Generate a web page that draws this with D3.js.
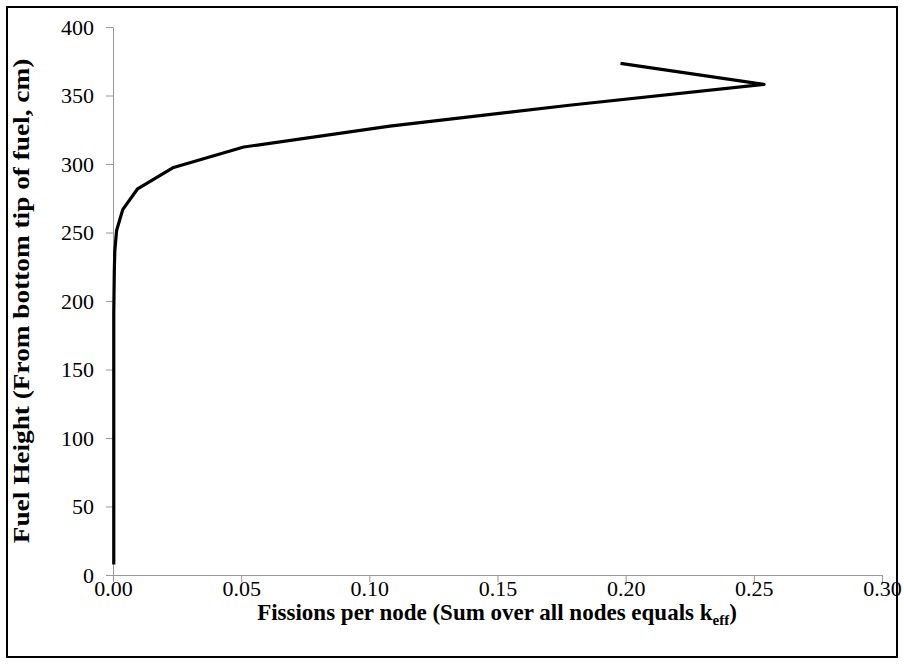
<!DOCTYPE html>
<html><head><meta charset="utf-8">
<script src="https://cdn.jsdelivr.net/npm/d3@7"></script>
<style>body{margin:0;background:#fff}svg{display:block}</style>
</head><body>
<script>
// Data: fuel height (cm) at node centers, fissions per node
const heights = [7.6, 22.9, 38.1, 53.3, 68.6, 83.8, 99.1, 114.3, 129.5, 144.8, 160.0, 175.3, 190.5, 205.7, 221.0, 236.2, 251.5, 266.7, 281.9, 297.2, 312.4, 327.7, 342.9, 358.1, 373.4];
const fissions = [0.0003, 0.0003, 0.0003, 0.0003, 0.0003, 0.0003, 0.0003, 0.0003, 0.0003, 0.0003, 0.0003, 0.0003, 0.0003, 0.0004, 0.0005, 0.0007, 0.0014, 0.0038, 0.0096, 0.0233, 0.051, 0.108, 0.178, 0.254, 0.198];
const xTicks = [0, 0.05, 0.10, 0.15, 0.20, 0.25, 0.30];
const yTicks = [0, 50, 100, 150, 200, 250, 300, 350, 400];
const xTitle = "Fissions per node (Sum over all nodes equals k";
const xTitleSub = "eff";
const yTitle = "Fuel Height (From bottom tip of fuel, cm)";

const W = 904, H = 664;
const svg = d3.select("body").append("svg").attr("width", W).attr("height", H);
svg.append("rect").attr("x", 7).attr("y", 7).attr("width", 890).attr("height", 650)
  .attr("fill", "#fff").attr("stroke", "#000").attr("stroke-width", 2);

const x = d3.scaleLinear().domain([0, 0.30]).range([113, 882]);
const y = d3.scaleLinear().domain([0, 400]).range([575, 27]);
const font = "Liberation Serif, Times New Roman, serif";

const xAxis = svg.append("g").attr("transform", "translate(0,575)")
  .call(d3.axisBottom(x).tickValues(xTicks).tickFormat(d3.format(".2f")).tickSize(7).tickSizeOuter(0));
const yAxis = svg.append("g").attr("transform", "translate(113,0)")
  .call(d3.axisLeft(y).tickValues(yTicks).tickFormat(d3.format("d")).tickSize(7).tickSizeOuter(0));
[xAxis, yAxis].forEach(g => {
  g.attr("font-family", font).attr("font-size", 22);
  g.selectAll("path, line").attr("stroke", "#999").attr("stroke-width", 1);
  g.selectAll("text").attr("fill", "#000");
});
xAxis.selectAll("text").attr("y", 5);
yAxis.selectAll("text").attr("x", -19).attr("dy", "0.34em");

const line = d3.line().x((d, i) => x(fissions[i])).y(d => y(d));
svg.append("path").datum(heights).attr("d", line)
  .attr("fill", "none").attr("stroke", "#000").attr("stroke-width", 3.2).attr("stroke-linejoin", "round");

const xt = svg.append("text").attr("x", 497).attr("y", 620).attr("text-anchor", "middle")
  .attr("font-family", font).attr("font-size", 23).attr("font-weight", "bold");
xt.append("tspan").text(xTitle);
xt.append("tspan").attr("dy", 5).attr("font-size", 15).text(xTitleSub);
xt.append("tspan").attr("dy", -5).text(")");

svg.append("text").attr("transform", "translate(29,301) rotate(-90) scale(1.05,0.86)").attr("text-anchor", "middle")
  .attr("font-family", font).attr("font-size", 26).attr("font-weight", "bold").text(yTitle);
</script>
</body></html>
